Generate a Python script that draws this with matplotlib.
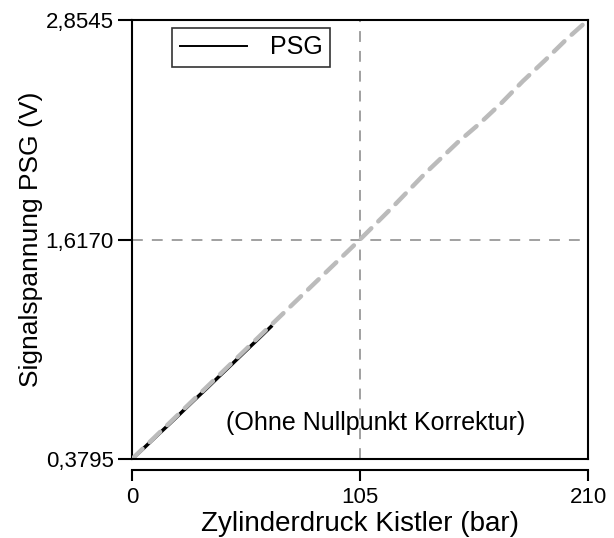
import matplotlib.pyplot as plt

plt.rcParams['font.family'] = ['Liberation Sans', 'DejaVu Sans']

# PSG measured signal (black)
psg_x = [0, 5, 10, 16, 22, 28, 34, 40, 46, 52, 58, 64]
psg_y = [0.3795, 0.436, 0.494, 0.563, 0.633, 0.704, 0.773, 0.844, 0.914, 0.985, 1.055, 1.126]

# calibration reference (gray dashed)
ref_x = [0, 65, 105, 120, 135, 150, 160, 170, 180, 190, 200, 210]
ref_y = [0.3795, 1.146, 1.617, 1.800, 1.990, 2.165, 2.270, 2.385, 2.510, 2.625, 2.745, 2.8545]

xticks = [0, 105, 210]
yticks = [0.3795, 1.6170, 2.8545]
ytick_labels = ['0,3795', '1,6170', '2,8545']

fig = plt.figure(figsize=(6.14, 5.38), dpi=100)
ax = fig.add_axes([0.215, 0.1468, 0.7427, 0.816])

ax.axvline(105, color='#999999', lw=1.3, dashes=(6, 5), zorder=1)
ax.axhline(1.6170, color='#999999', lw=1.3, dashes=(6, 5), zorder=1)

ax.plot(psg_x, psg_y, color='black', lw=2.5, label='PSG', zorder=3)
ax.plot(ref_x, ref_y, color='#bbbbbb', lw=3.2, dashes=(3.3, 2.2), dash_capstyle='round', zorder=4)

ax.set_xlim(0, 210)
ax.set_ylim(0.3795, 2.8545)
ax.set_xticks(xticks)
ax.set_xticklabels([str(t) for t in xticks])
ax.set_yticks(yticks)
ax.set_yticklabels(ytick_labels)

ax.spines['bottom'].set_position(('outward', 8))
ax.spines['bottom'].set_linewidth(1.5)
for s in ['top', 'left', 'right']:
    ax.spines[s].set_linewidth(1.5)
ax.axhline(0.3795, color='black', lw=1.5, clip_on=False, zorder=5)

ax.tick_params(axis='x', direction='out', length=8, width=1.5, labelsize=16, pad=4)
ax.tick_params(axis='y', direction='out', length=10, width=1.5, labelsize=16, pad=3)

ax.set_xlabel('Zylinderdruck Kistler (bar)', fontsize=20, labelpad=2)
ax.set_ylabel('Signalspannung PSG (V)', fontsize=19, labelpad=2)

ax.text(112.4, 0.582, '(Ohne Nullpunkt Korrektur)', fontsize=18, ha='center', va='center')

leg = ax.legend(loc='upper left', bbox_to_anchor=(0.088, 0.982), fontsize=18,
                frameon=True, fancybox=False, handlelength=2.7, handletextpad=0.9,
                borderpad=0.3, borderaxespad=0)
leg.get_frame().set_edgecolor('black')
leg.get_frame().set_linewidth(1.2)
for h in leg.get_lines():
    h.set_linewidth(1.4)

fig.savefig('out.png', dpi=100)
